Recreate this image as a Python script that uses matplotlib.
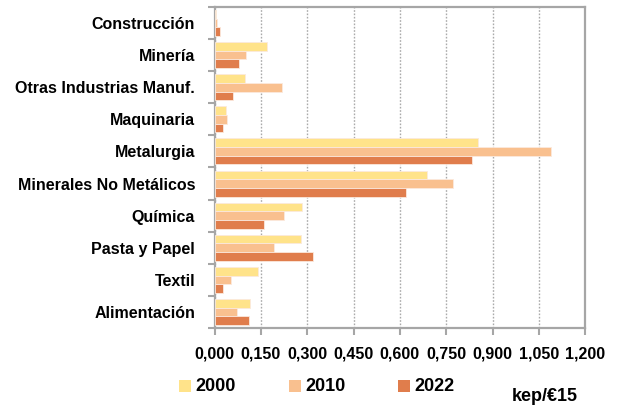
import numpy as np
import matplotlib.pyplot as plt
import matplotlib.ticker as ticker
from matplotlib.patches import Rectangle

# sectors, bottom to top as drawn
sectors = ['Alimentación', 'Textil', 'Pasta y Papel', 'Química', 'Minerales No Metálicos',
           'Metalurgia', 'Maquinaria', 'Otras Industrias Manuf.', 'Minería', 'Construcción']
years = ['2000', '2010', '2022']
v2000 = [0.114, 0.139, 0.279, 0.282, 0.687, 0.852, 0.036, 0.098, 0.168, 0.005]
v2010 = [0.072, 0.052, 0.192, 0.226, 0.771, 1.088, 0.041, 0.218, 0.101, 0.006]
v2022 = [0.112, 0.028, 0.320, 0.159, 0.620, 0.834, 0.028, 0.058, 0.080, 0.017]
xticks = [0, 0.15, 0.30, 0.45, 0.60, 0.75, 0.90, 1.05, 1.20]

colors = ['#FFE38A', '#F9C08F', '#E07D4C']
frame = '#A6A6A6'
plt.rcParams['font.family'] = ['Liberation Sans', 'DejaVu Sans']
plt.rcParams['font.weight'] = 'bold'

fig = plt.figure(figsize=(6.23, 4.05), dpi=100)
ax = fig.add_axes([0.3446, 0.190, 0.5946, 0.793])

y = np.arange(len(sectors))
h = 0.27
for i, (vals, c) in enumerate(zip([v2000, v2010, v2022], colors)):
    ax.barh(y + (1 - i) * h, vals, height=h, color=c, edgecolor='#FBE9DD', linewidth=0.6, zorder=3)

ax.set_xlim(0, 1.2)
ax.set_ylim(-0.5, len(sectors) - 0.5)
ax.set_xticks(xticks)
ax.xaxis.set_major_formatter(ticker.FuncFormatter(lambda v, p: f'{v:.3f}'.replace('.', ',')))
ax.set_yticks(y)
ax.set_yticklabels(sectors, fontweight='bold')
ax.set_yticks(np.arange(-0.5, len(sectors)), minor=True)
ax.tick_params(axis='y', which='major', length=0, pad=14, labelsize=11.5)
ax.tick_params(axis='y', which='minor', length=5, width=1.5, color=frame, direction='out')
ax.tick_params(axis='x', length=5, width=1.5, color=frame, pad=8, labelsize=11.5)
for lab in ax.get_xticklabels():
    lab.set_fontweight('bold')
ax.grid(axis='x', linestyle=(0, (1.2, 1.2)), color='#AAAAAA', linewidth=1.0, zorder=0)
for s in ax.spines.values():
    s.set_color(frame)
    s.set_linewidth(1.6)

# legend along the bottom
lx = [0.288, 0.464, 0.639]
for x0, c, yr in zip(lx, colors, years):
    fig.patches.append(Rectangle((x0, 0.032), 0.019, 0.030, transform=fig.transFigure,
                                 facecolor=c, edgecolor='none'))
    fig.text(x0 + 0.026, 0.045, yr, fontsize=13, fontweight='bold', va='center', ha='left')
fig.text(0.821, 0.020, 'kep/€15', fontsize=13, fontweight='bold', va='center', ha='left')

fig.savefig('out.png', dpi=100)
